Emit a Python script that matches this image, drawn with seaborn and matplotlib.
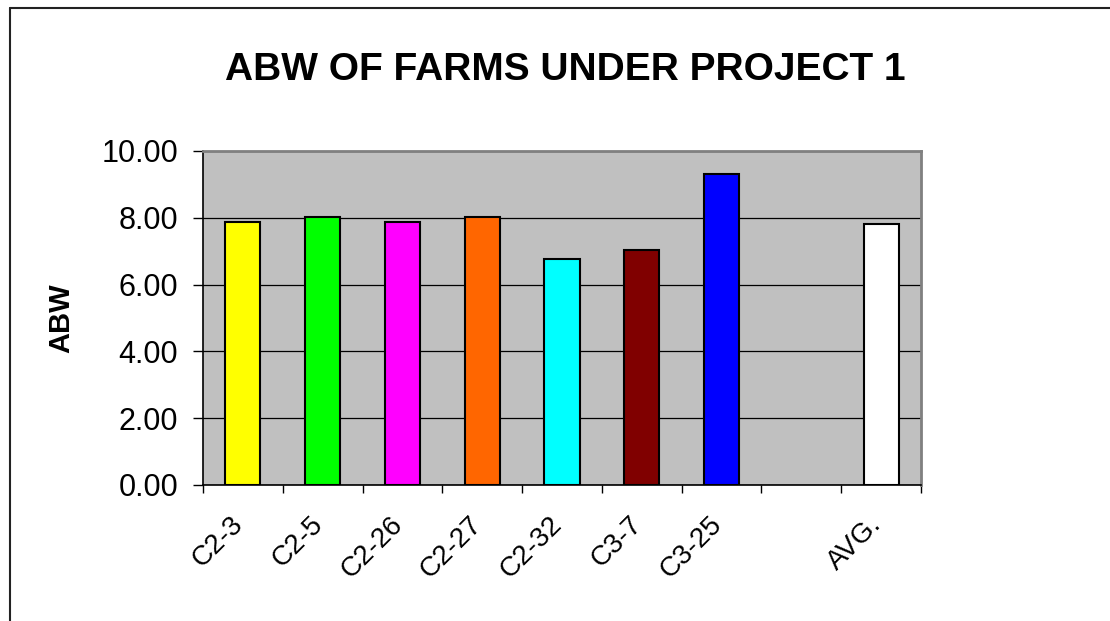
import numpy as np
import pandas as pd
import seaborn as sns
import matplotlib.pyplot as plt
from matplotlib.lines import Line2D
from matplotlib.transforms import ScaledTranslation

sns.set_style("white")
plt.rcParams['font.family'] = ['Liberation Sans', 'DejaVu Sans']
plt.rcParams['text.color'] = 'black'
plt.rcParams['xtick.color'] = 'black'
plt.rcParams['ytick.color'] = 'black'
plt.rcParams['axes.labelcolor'] = 'black'

farms = ["C2-3", "C2-5", "C2-26", "C2-27", "C2-32", "C3-7", "C3-25", "AVG."]
abw = [7.88, 8.01, 7.88, 8.01, 6.76, 7.04, 9.30, 7.81]
colors = ["#FFFF00", "#00FF00", "#FF00FF", "#FF6600", "#00FFFF", "#800000", "#0000FF", "#FFFFFF"]
# empty slot between C3-25 and AVG.
order = farms[:7] + [" "] + farms[7:]

df = pd.DataFrame({"Farm": farms, "ABW": abw})
pal = dict(zip(farms, colors))

fig = plt.figure(figsize=(11.1, 6.21), dpi=100)
ax = fig.add_axes([203 / 1110, 1 - 485 / 621, 718 / 1110, 334 / 621])

sns.barplot(data=df, x="Farm", y="ABW", hue="Farm", order=order, hue_order=farms,
            palette=pal, width=0.44, saturation=1, edgecolor="black", linewidth=1.5,
            legend=False, ax=ax, zorder=3)

ax.set_facecolor("#C0C0C0")
ax.set_xlim(-0.5, 8.5)
ax.set_ylim(0, 10)
ax.set_yticks(np.arange(0, 11, 2))
ax.set_yticklabels(["%.2f" % v for v in np.arange(0, 11, 2)])
ax.yaxis.grid(True, color="black", linewidth=0.9, zorder=0)
ax.set_axisbelow(True)

ax.set_xticks(range(9))
ax.set_xticklabels(order, rotation=45, ha="right", va="top", rotation_mode="anchor")
ax.set_xticks(np.arange(-0.5, 9, 1), minor=True)
ax.tick_params(axis="x", which="major", bottom=True, length=0, pad=19, labelsize=20)
ax.tick_params(axis="x", which="minor", bottom=True, length=6, width=1, color="black", direction="out")
ax.tick_params(axis="y", left=True, length=7, width=1, color="black", direction="out", pad=11, labelsize=22)
shift = ScaledTranslation(-13 / 100, 0, fig.dpi_scale_trans)
for lbl in ax.get_xticklabels():
    lbl.set_transform(lbl.get_transform() + shift)
ax.set_xlabel("")
ax.set_ylabel("ABW", fontsize=21, fontweight="bold", labelpad=19)

for s in ["left", "bottom"]:
    ax.spines[s].set_color("black")
    ax.spines[s].set_linewidth(1.2)
for s in ["top", "right"]:
    ax.spines[s].set_color("#808080")
    ax.spines[s].set_linewidth(2)

fig.text(565 / 1110, 1 - 70 / 621, "ABW OF FARMS UNDER PROJECT 1",
         ha="center", va="center", fontsize=28, fontweight="bold")

# outer chart frame (left and top edges visible)
fig.add_artist(Line2D([9.5 / 1110, 9.5 / 1110], [0, 1 - 7.5 / 621], transform=fig.transFigure,
                      color="#222222", linewidth=1.5))
fig.add_artist(Line2D([9.5 / 1110, 1], [1 - 7.5 / 621, 1 - 7.5 / 621], transform=fig.transFigure,
                      color="#222222", linewidth=1.5))

fig.savefig("out.png", dpi=100)
